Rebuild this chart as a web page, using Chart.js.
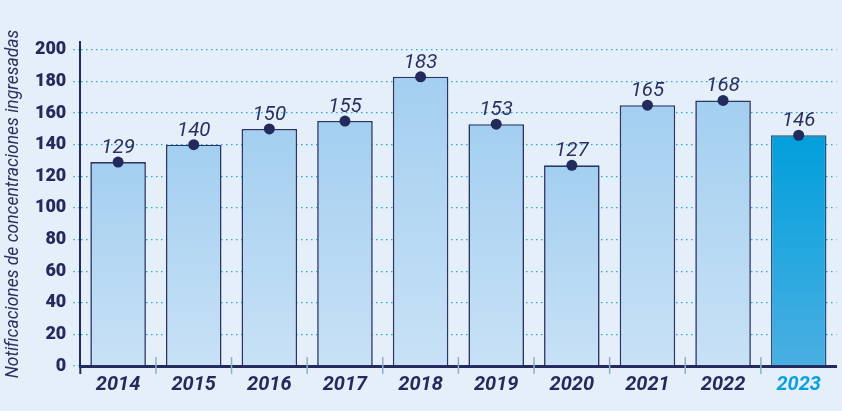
<!DOCTYPE html>
<html><head><meta charset="utf-8">
<script src="https://cdn.jsdelivr.net/npm/chart.js@4.4.0/dist/chart.umd.min.js"></script>
<style>html,body{margin:0;padding:0;background:#e5eff9;}#wrap{width:842px;height:411px;}</style>
</head><body><div id="wrap"><canvas id="c" width="842" height="411"></canvas></div>
<script>
const categories = ['2014','2015','2016','2017','2018','2019','2020','2021','2022','2023'];
const values = [129,140,150,155,183,153,127,165,168,146];
const yTicks = [0,20,40,60,80,100,120,140,160,180,200];
const yTitle = 'Notificaciones de concentraciones ingresadas';

const NAVY = '#232b5c';
const HILITE = '#0aa0dc';

function barGrad(ctx, top, bottom, c1, c2){
  const g = ctx.createLinearGradient(0, top, 0, bottom);
  g.addColorStop(0, c1); g.addColorStop(1, c2); return g;
}

const sepPlugin = {
  id:'sep',
  afterDatasetsDraw(chart){
    const ctx = chart.ctx, x = chart.scales.x, y = chart.scales.y;
    const base = y.getPixelForValue(0);
    ctx.save();
    ctx.strokeStyle = '#8fb0c4'; ctx.lineWidth = 1.5;
    for (let i=0;i<categories.length-1;i++){
      const px = (x.getPixelForValue(i)+x.getPixelForValue(i+1))/2;
      ctx.beginPath(); ctx.moveTo(px, base-9); ctx.lineTo(px, base+8); ctx.stroke();
    }
    ctx.strokeStyle = NAVY; ctx.lineWidth = 2;
    ctx.beginPath(); ctx.moveTo(x.left, base); ctx.lineTo(x.left, base+8); ctx.stroke();
    const meta = chart.getDatasetMeta(0);
    ctx.font = 'italic 400 20.5px Roboto';
    ctx.fillStyle = '#2a3160'; ctx.textAlign='center'; ctx.textBaseline='alphabetic';
    meta.data.forEach((p,i)=>{ ctx.fillText(String(values[i]), p.x, p.y-9); });
    ctx.restore();
  }
};

new Chart(document.getElementById('c'), {
  data:{
    labels: categories,
    datasets:[
      {type:'line', data: values, showLine:false, pointRadius:5.5, pointHoverRadius:5.5,
       pointBackgroundColor: NAVY, pointBorderColor: NAVY, pointBorderWidth:0, order:0},
      {type:'bar', data: values, order:1,
       backgroundColor: (c)=>{
         const a = c.chart.chartArea; if(!a) return '#a8d1f1';
         const y = c.chart.scales.y;
         const top = y.getPixelForValue(c.raw||0), bot = y.getPixelForValue(0);
         return c.dataIndex===9 ? barGrad(c.chart.ctx, top, bot, '#009fdc', '#4aafe2')
                                : barGrad(c.chart.ctx, top, bot, '#a3cff0', '#c8e1f6');
       },
       borderColor: (c)=> c.dataIndex===9 ? '#2b4f80' : '#2a3565',
       borderWidth: 1.6, borderSkipped: 'bottom',
       barPercentage: 0.735, categoryPercentage: 1.0}
    ]
  },
  options:{
    responsive:false, animation:false,
    layout:{padding:{top:42, right:0, bottom:7, left:1}},
    plugins:{legend:{display:false}, tooltip:{enabled:false}},
    scales:{
      x:{
        offset:true,
        grid:{display:false, drawTicks:false},
        border:{display:true, color:NAVY, width:3},
        ticks:{padding:7, font:{family:'Roboto', size:20, weight:'bold', style:'italic'},
          color:(c)=> c.index===9 ? HILITE : NAVY, maxRotation:0}
      },
      y:{
        min:0, max:205,
        afterBuildTicks:(s)=>{ s.ticks = yTicks.map(v=>({value:v})); },
        grid:{color:'#29a8e0', lineWidth:1.3, tickBorderDash:[1.5,3.5], tickLength:7, drawTicks:true, tickColor:'#29a8e0'},
        border:{display:true, color:NAVY, width:2, dash:[1.5,3.5]},
        ticks:{padding:7, font:{family:'Roboto', size:18, weight:'900'}, color:NAVY},
        title:{display:true, text:yTitle, color:'#2a3160', padding:{top:2,bottom:4},
          font:{family:'Roboto', size:17.5, style:'italic'}}
      }
    }
  },
  plugins:[sepPlugin]
});
</script></body></html>
